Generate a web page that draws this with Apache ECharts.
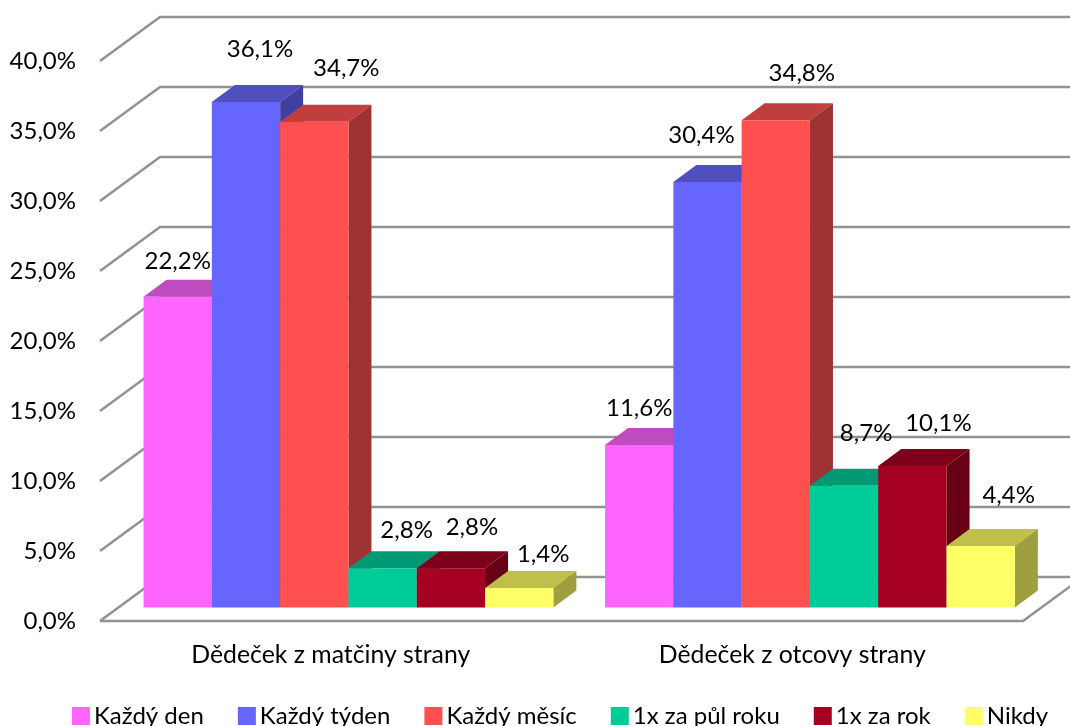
<!DOCTYPE html>
<html>
<head>
<meta charset="utf-8">
<style>html,body{margin:0;padding:0;background:#fff}#c{width:1070px;height:726px}</style>
<script src="https://cdn.jsdelivr.net/npm/echarts@6/dist/echarts.min.js"></script>
</head>
<body>
<div id="c"></div>
<script>
const categories = ['Dědeček z matčiny strany', 'Dědeček z otcovy strany'];
const seriesNames = ['Každý den', 'Každý týden', 'Každý měsíc', '1x za půl roku', '1x za rok', 'Nikdy'];
const maternal = [22.2, 36.1, 34.7, 2.8, 2.8, 1.4];
const paternal = [11.6, 30.4, 34.8, 8.7, 10.1, 4.4];
const yTicks = [0, 5, 10, 15, 20, 25, 30, 35, 40];

const frontColors = ['#FF66FF', '#6666FF', '#FF5050', '#00CC99', '#A50021', '#FFFF66'];
const topColors = ['#BF4CBF', '#4F4FBF', '#BF3F3F', '#009973', '#7C0019', '#BFBF4C'];
const sideColors = ['#9F409F', '#3F3F9F', '#9F3232', '#008060', '#670015', '#9F9F40'];

// hand-placed data-label nudges from the bar centre, [dx, dy] per category then series
const labelNudge = [
  [[0, -35], [14, -53], [32, -53], [24, -38], [21, -41], [24, -34]],
  [[0, -37], [-6, -47], [26, -47], [22, -52], [26, -43], [28, -51]]
];

const FONT = 'Lato';
const FONT_SIZE = 24;
const gridColor = '#929292';
const wallDx = 60, wallDy = -44;
const planeDx = 17.7, planeDy = -13.5;
const barDx = 23, barDy = -17;
const barShare = 0.148;
const pct = v => v.toFixed(1).replace('.', ',') + '%';

function gridItem(params, api) {
  const v = api.value(0);
  const cs = params.coordSys;
  const y = api.coord([0, v])[1];
  const x0 = cs.x, x1 = cs.x + cs.width;
  const pts = [[x0, y], [x0 + wallDx, y + wallDy], [x1 + wallDx, y + wallDy]];
  const style = { stroke: gridColor, lineWidth: 2.5, fill: null };
  const children = [{ type: 'polyline', shape: { points: pts }, style }];
  if (v === 0) {
    children.push({ type: 'polyline', shape: { points: [[x0, y], [x1, y], [x1 + wallDx, y + wallDy]] }, style });
  }
  return { type: 'group', children };
}

function barItem(j) {
  return function (params, api) {
    const i = api.value(0), v = api.value(1);
    const band = api.size([1, 0])[0];
    const w = band * barShare;
    const c = api.coord([i, 0]);
    const t = api.coord([i, v]);
    const x = c[0] + planeDx + (j - 3) * w;
    const b = c[1] + planeDy, y = t[1] + planeDy;
    const n = labelNudge[i][j];
    return {
      type: 'group',
      children: [
        { type: 'polygon', shape: { points: [[x, y], [x + barDx, y + barDy], [x + w + barDx, y + barDy], [x + w, y]] }, style: { fill: topColors[j] } },
        { type: 'polygon', shape: { points: [[x + w, y], [x + w + barDx, y + barDy], [x + w + barDx, b + barDy], [x + w, b]] }, style: { fill: sideColors[j] } },
        { type: 'rect', shape: { x, y, width: w, height: b - y }, style: { fill: frontColors[j] } },
        { type: 'text', z2: 50, style: { text: pct(v), x: x + w / 2 + n[0], y: y + n[1], align: 'center', verticalAlign: 'middle', fill: '#000', font: FONT_SIZE + 'px ' + FONT } }
      ]
    };
  };
}

const chart = echarts.init(document.getElementById('c'), null, { renderer: 'canvas' });
chart.setOption({
  animation: false,
  backgroundColor: '#fff',
  grid: { left: 100, width: 923, top: 61, height: 560, containLabel: false },
  xAxis: {
    type: 'category', data: categories,
    axisLine: { show: false }, axisTick: { show: false },
    axisLabel: { margin: 22, fontFamily: FONT, fontSize: 24.8, color: '#000' }
  },
  yAxis: {
    type: 'value', min: 0, max: 40, interval: 5,
    axisLine: { show: false }, axisTick: { show: false }, splitLine: { show: false },
    axisLabel: { margin: 24, fontFamily: FONT, fontSize: FONT_SIZE, color: '#000', formatter: v => pct(v) }
  },
  legend: {
    data: seriesNames, left: 67, top: 699,
    itemWidth: 18, itemHeight: 18, itemGap: 34,
    icon: 'rect',
    textStyle: { fontFamily: FONT, fontSize: FONT_SIZE, color: '#000', padding: [0, 0, 0, -1] }
  },
  series: [
    { type: 'custom', silent: true, z: 1, data: yTicks.map(v => [v]), encode: { y: 0 }, renderItem: gridItem }
  ].concat(seriesNames.map((name, j) => ({
    type: 'custom', name, z: 2,
    itemStyle: { color: frontColors[j] },
    encode: { x: 0, y: 1 },
    data: [[0, maternal[j]], [1, paternal[j]]],
    renderItem: barItem(j)
  })))
});
</script>
</body>
</html>
